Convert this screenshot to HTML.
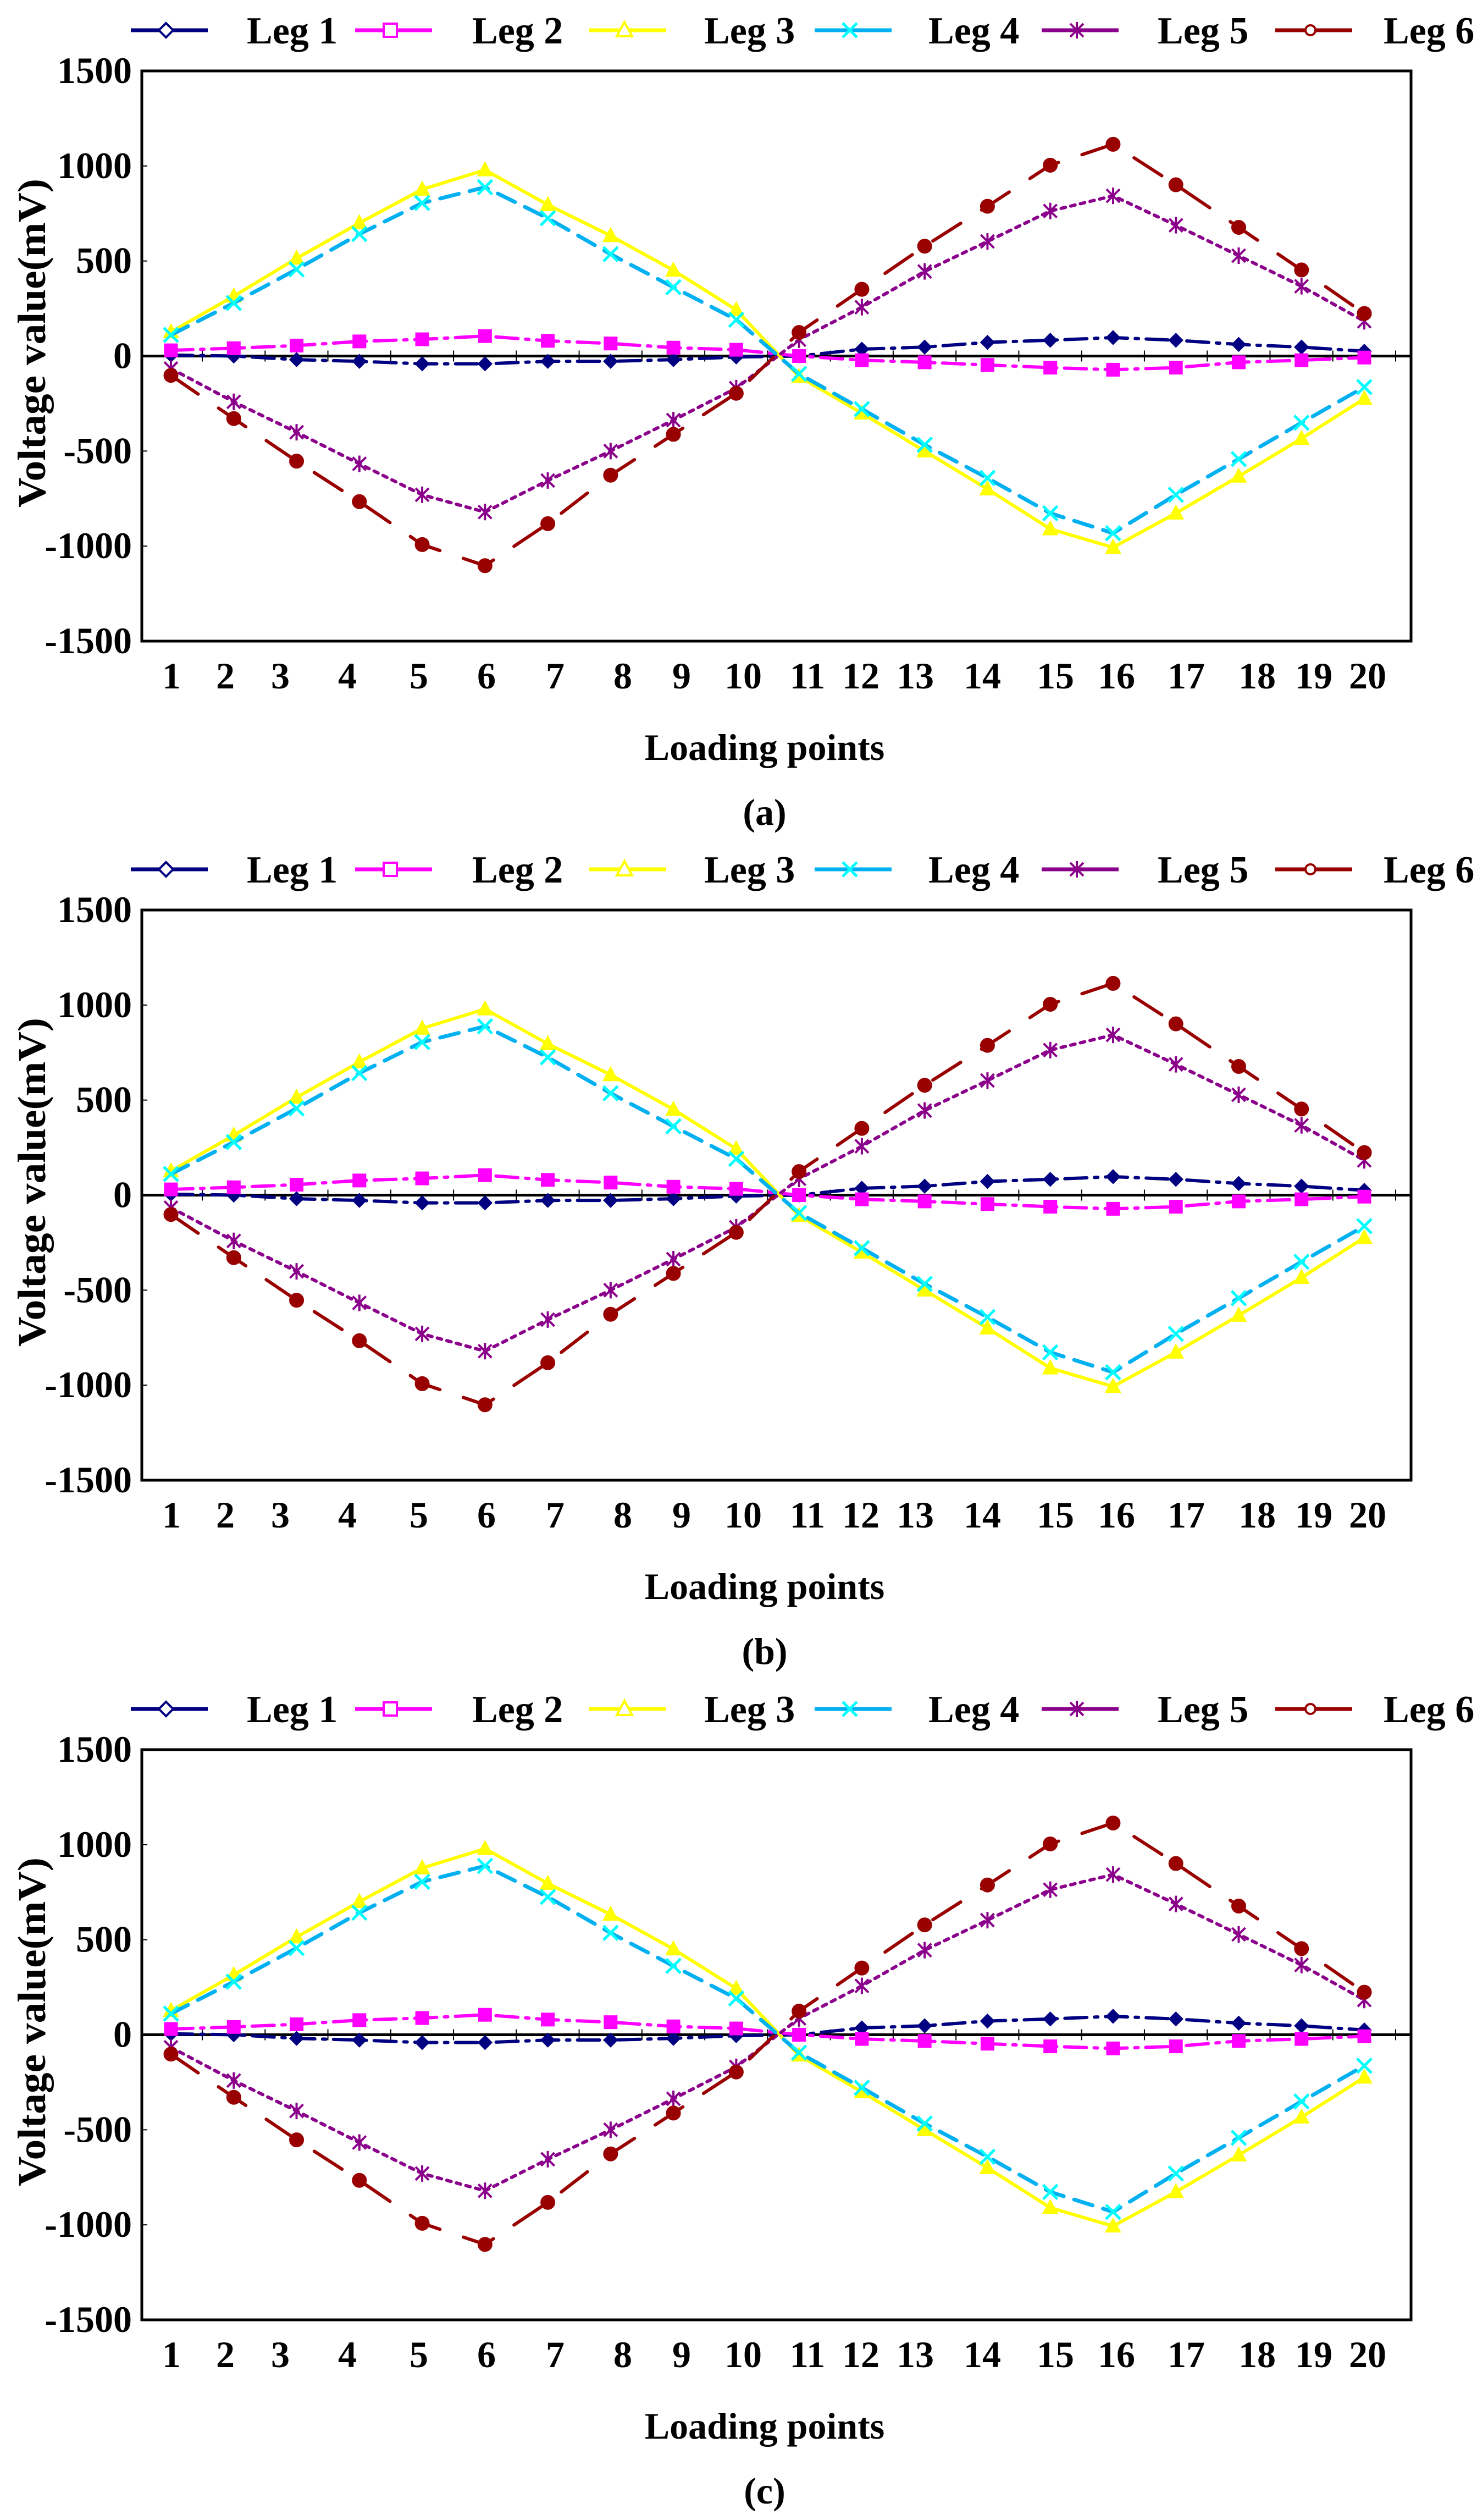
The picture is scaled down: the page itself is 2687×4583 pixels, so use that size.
<!DOCTYPE html>
<html><head><meta charset="utf-8">
<style>
html,body{margin:0;padding:0;background:#fff;}
svg{display:block;}
text{font-family:"Liberation Serif",serif;font-weight:bold;fill:#000;}
</style></head>
<body>
<svg id="root" width="2687" height="4583" viewBox="0 0 2687 4583" xmlns="http://www.w3.org/2000/svg"></svg>
<script>
const categories=[1,2,3,4,5,6,7,8,9,10,11,12,13,14,15,16,17,18,19,20];
const leg1=[5,0,-19,-28,-41,-41,-28,-28,-19,-5,0,36,47,72,83,97,83,61,47,25];
const leg2=[30,41,55,77,88,105,80,66,44,33,0,-22,-33,-47,-61,-72,-61,-33,-22,-8];
const leg3=[127,315,514,700,877,979,796,633,451,243,-108,-301,-500,-700,-910,-1007,-827,-633,-434,-224];
const leg4=[111,279,456,642,805,888,725,536,362,191,-94,-279,-467,-642,-827,-932,-730,-542,-351,-163];
const leg5=[-66,-241,-401,-567,-730,-821,-655,-500,-337,-169,86,257,445,603,763,843,688,528,367,183];
const leg6=[-102,-329,-553,-766,-992,-1103,-882,-627,-412,-196,124,351,578,788,1004,1114,901,677,453,224];
const yTicks=[1500,1000,500,0,-500,-1000,-1500];
const legNames=["Leg 1","Leg 2","Leg 3","Leg 4","Leg 5","Leg 6"];
const captions=["(a)","(b)","(c)"];
const tickLabelX=[312,410,510,632,762,885,1010,1133,1240,1352,1469,1566,1665,1787,1920,2031,2158,2287,2390,2488];

const NS="http://www.w3.org/2000/svg";
const root=document.getElementById('root');
function mk(tag,attrs,parent){const e=document.createElementNS(NS,tag);for(const k in attrs)e.setAttribute(k,attrs[k]);parent.appendChild(e);return e;}

const series=[
 {vals:leg1,color:'#000080',mcol:'#000080',dash:'40 14 6 14',marker:'diamond',w:6},
 {vals:leg2,color:'#FF00FF',mcol:'#FF00FF',dash:'40 14 6 14',marker:'square',w:6},
 {vals:leg3,color:'#FFFF00',mcol:'#FFFF00',dash:'',marker:'triangle',w:6},
 {vals:leg4,color:'#00B0F0',mcol:'#00FFFF',dash:'35 20',marker:'x',w:7},
 {vals:leg5,color:'#8B008B',mcol:'#8B008B',dash:'8 10',marker:'star',w:6},
 {vals:leg6,color:'#990000',mcol:'#990000',dash:'60 45',marker:'circle',w:6}
];
const sNames=['leg-1','leg-2','leg-3','leg-4','leg-5','leg-6'];

function marker(g,type,x,y,col,filled,name){
  let e;const s=13;
  if(type==='diamond'){e=mk('polygon',{points:`${x},${y-s} ${x+s},${y} ${x},${y+s} ${x-s},${y}`,fill:filled?col:'#fff',stroke:col,'stroke-width':filled?1:4},g);}
  else if(type==='square'){e=mk('rect',{x:x-12,y:y-12,width:24,height:24,fill:filled?col:'#fff',stroke:col,'stroke-width':filled?1:4},g);}
  else if(type==='triangle'){e=mk('polygon',{points:`${x},${y-15} ${x+14},${y+11} ${x-14},${y+11}`,fill:filled?col:'#fff',stroke:col,'stroke-width':filled?1:4},g);}
  else if(type==='x'){e=mk('path',{d:`M${x-13},${y-13}L${x+13},${y+13}M${x-13},${y+13}L${x+13},${y-13}`,stroke:col,'stroke-width':5,fill:'none'},g);}
  else if(type==='star'){e=mk('path',{d:`M${x-12},${y-12}L${x+12},${y+12}M${x-12},${y+12}L${x+12},${y-12}M${x},${y-15}L${x},${y+15}`,stroke:col,'stroke-width':4,fill:'none'},g);}
  else {e=mk('circle',{cx:x,cy:y,r:filled?13:9,fill:filled?col:'#fff',stroke:col,'stroke-width':filled?1:4},g);}
  
  
}

const offsets=[0,1526,3053];
offsets.forEach((off,ci)=>{
  const L=258,R=2567,T=129+off,B=1166+off;
  const xS=i=>311+(i)*(2482-311)/19;
  const yS=v=>T+(1500-v)*(B-T)/3000;
  const g=mk('g',{},root);
  
  
  const lg=mk('g',{},g);
  
  
  const legX=[238,646,1072,1482,1895,2320];
  const legTX=[449,859,1281,1689,2106,2517];
  const ly=55+off;
  series.forEach((s,k)=>{
    const eg=mk('g',{},lg);
    
    
    const ln=mk('line',{x1:legX[k],y1:ly,x2:legX[k]+140,y2:ly,stroke:s.color,'stroke-width':7},eg);
    
    
    marker(eg,s.marker,legX[k]+64,ly,s.mcol,false,'legend-marker');
    const t=mk('text',{x:legTX[k],y:ly+24,'font-size':70},eg);t.textContent=legNames[k];
    
    
  });
  const fr=mk('rect',{x:L,y:T,width:R-L,height:B-T,fill:'none',stroke:'#000','stroke-width':5},g);
  
  
  yTicks.forEach(v=>{
    const t=mk('text',{x:L-18,y:yS(v)+22,'font-size':68,'text-anchor':'end'},g);t.textContent=v;
    
    
    const tk=mk('line',{x1:L,y1:yS(v),x2:L+10,y2:yS(v),stroke:'#000','stroke-width':2},g);
    
    
  });
  const z=mk('line',{x1:L,y1:yS(0),x2:R,y2:yS(0),stroke:'#000','stroke-width':5},g);
  
  
  for(let i=0;i<20;i++){
    const tx=xS(i)+57;
    const tk=mk('line',{x1:tx,y1:yS(0)-10,x2:tx,y2:yS(0)+10,stroke:'#000','stroke-width':2},g);
    
    
  }
  categories.forEach((c,i)=>{
    const t=mk('text',{x:tickLabelX[i],y:B+86,'font-size':68,'text-anchor':'middle'},g);t.textContent=c;
    
    
  });
  series.forEach((s,k)=>{
    const sg=mk('g',{},g);
    
    
    const pts=s.vals.map((v,i)=>xS(i)+','+yS(v)).join(' ');
    const pl=mk('polyline',{points:pts,fill:'none',stroke:s.color,'stroke-width':s.w,'stroke-dasharray':s.dash,'stroke-linecap':'round'},sg);
    
    
    s.vals.forEach((v,i)=>marker(sg,s.marker,xS(i),yS(v),s.mcol,true,'data-point'));
  });
  const yt=mk('text',{x:0,y:0,'font-size':72,'text-anchor':'middle',textLength:598,lengthAdjust:'spacingAndGlyphs',transform:`translate(82,${624+off}) rotate(-90)`},g);
  yt.textContent='Voltage value(mV)';
  
  
  const xt=mk('text',{x:1391,y:1382+off,'font-size':68,'text-anchor':'middle'},g);
  xt.textContent='Loading points';
  
  
  const cp=mk('text',{x:1391,y:1500+off,'font-size':68,'text-anchor':'middle'},g);
  cp.textContent=captions[ci];
  
  
});
</script>
</body></html>
